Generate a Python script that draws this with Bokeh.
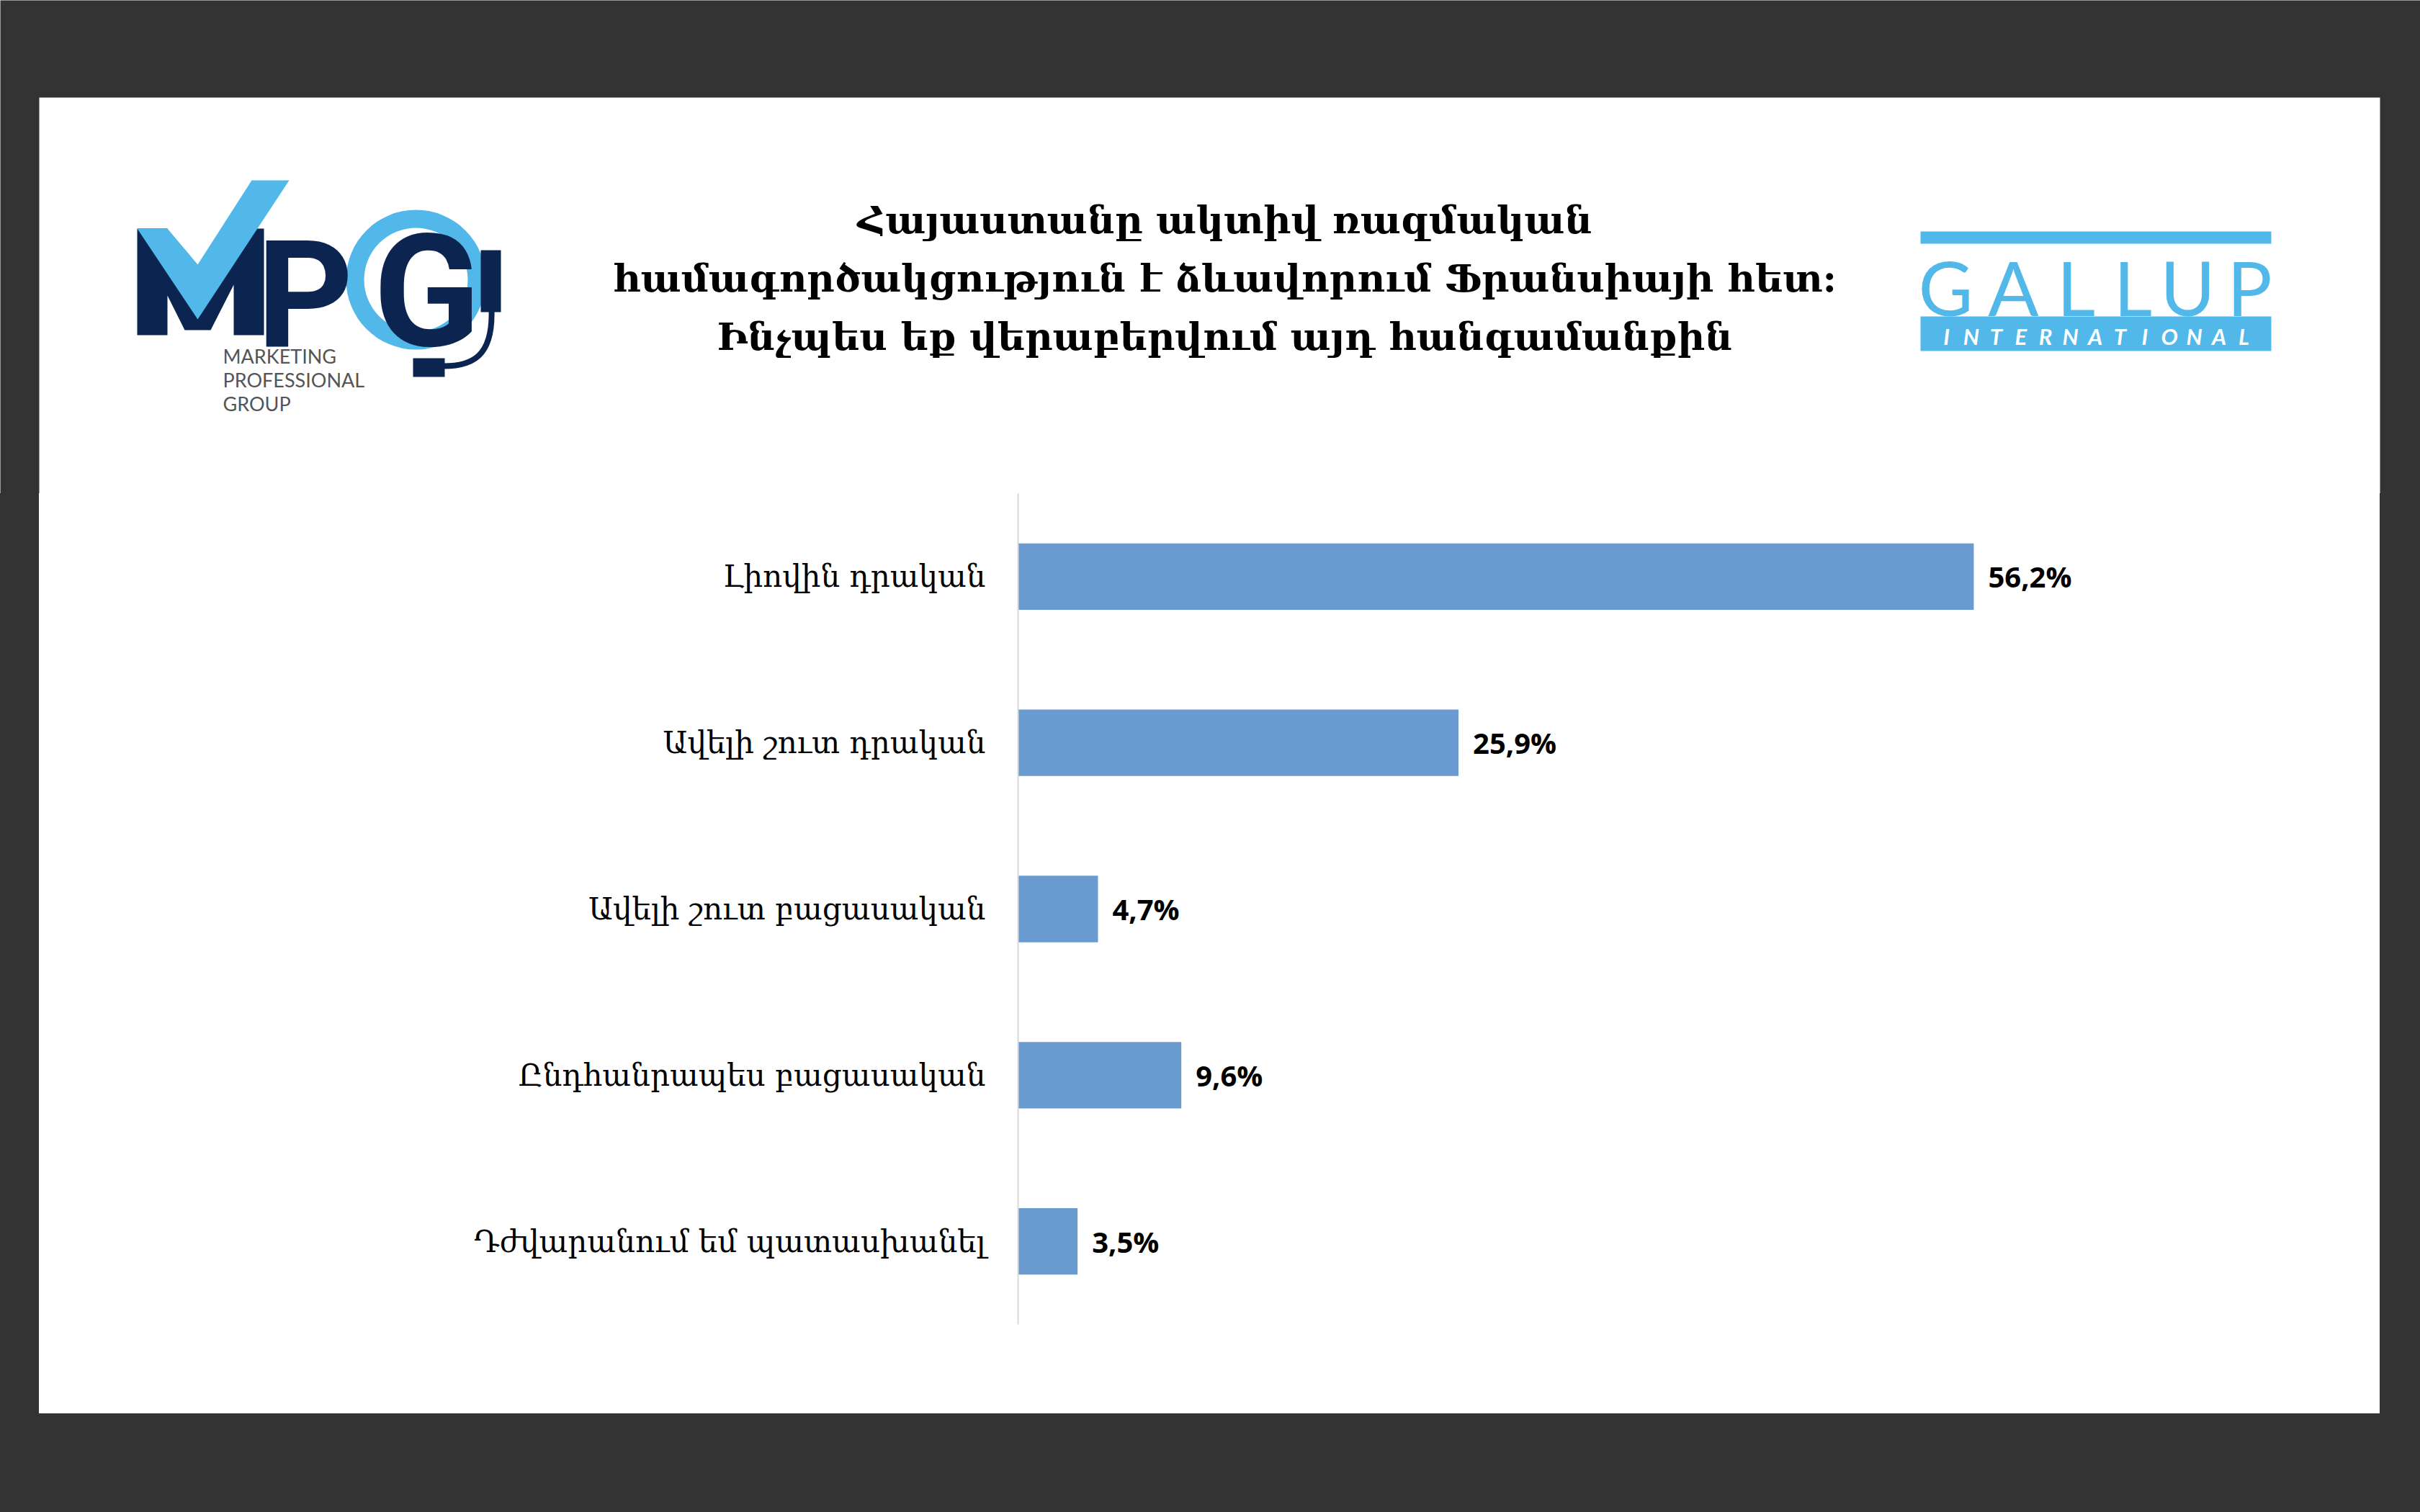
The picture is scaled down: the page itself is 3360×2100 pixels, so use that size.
import numpy as np
from bokeh.plotting import figure
from bokeh.layouts import column, row
from bokeh.models import Range1d, FactorRange, ColumnDataSource, Spacer
from bokeh.core.properties import value
from bokeh.embed import file_html
from bokeh.resources import INLINE

# ---------------- data ----------------
categories = ["Լիովին դրական", "Ավելի շուտ դրական", "Ավելի շուտ բացասական",
              "Ընդհանրապես բացասական", "Դժվարանում եմ պատասխանել"]
values = [56.2, 25.9, 4.7, 9.6, 3.5]
value_labels = [f"{v:.1f}%".replace(".", ",") for v in values]
title_lines = ["Հայաստանը ակտիվ ռազմական",
               "համագործակցություն է ձևավորում Ֆրանսիայի հետ:",
               "Ինչպես եք վերաբերվում այդ հանգամանքին"]
mpg_sub = ["MARKETING", "PROFESSIONAL", "GROUP"]
gallup_letters = list("GALLUP")
intl_letters = list("INTERNATIONAL")

DARK = "#333333"
BAR = "#699bd0"
LBLUE = "#52b8e9"
NAVY = "#0c2450"
ARM_FONT = "DejaVu Serif"


def dark_strip(w, h):
    return Spacer(width=w, height=h, styles={"background-color": DARK})


# ---------------- header ----------------
H_H = 685
hdr = figure(width=3360, height=H_H, x_range=Range1d(0, 3360), y_range=Range1d(H_H, 0),
             x_axis_type=None, y_axis_type=None, toolbar_location=None,
             output_backend="svg", min_border=0)
hdr.background_fill_color = DARK
hdr.border_fill_color = DARK
hdr.outline_line_color = None
hdr.quad(left=54, right=3304, top=135, bottom=H_H + 5, color="white", line_color=None)

# title
hdr.text(x=[1700] * 3, y=[304, 385, 466], text=title_lines, text_align="center",
         text_baseline="middle", text_font=value(ARM_FONT), text_font_style="bold",
         text_font_size="53px", text_color="black")

# MPG logo
hdr.annular_wedge(x=577, y=388, inner_radius=72, outer_radius=97, start_angle=0,
                  end_angle=2 * np.pi, color=LBLUE, line_color=None)
hdr.patch(x=[190, 190, 232, 274, 316, 366, 366, 324, 324, 292, 256, 232, 232],
          y=[465, 317, 317, 400, 317, 317, 465, 465, 395, 458, 458, 410, 465],
          color=NAVY, line_color=None)
hdr.patch(x=[190, 232, 274, 349, 401, 274],
          y=[317, 317, 367, 250, 250, 443], color=LBLUE, line_color=None)
hdr.text(x=[356], y=[410], text=["P"], text_align="left", text_baseline="middle",
         text_font=value("Roboto"), text_font_style="bold", text_font_size="208px",
         text_color=NAVY)
hdr.text(x=[592], y=[405], text=["G"], text_align="center", text_baseline="middle",
         text_font=value("Roboto"), text_font_style="bold", text_font_size="218px",
         text_color=NAVY)
hdr.quad(left=667, right=695, top=347, bottom=433, color=NAVY, line_color=None)
hdr.bezier(x0=682, y0=430, x1=615, y1=508, cx0=684, cy0=495, cx1=655, cy1=508,
           line_color=NAVY, line_width=8)
hdr.quad(left=573, right=617, top=497, bottom=523, color=NAVY, line_color=None)
hdr.text(x=[309] * 3, y=[494, 527, 560], text=mpg_sub, text_align="left",
         text_baseline="middle", text_font=value("Lato"), text_font_size="27px",
         text_color="#555555")

# GALLUP logo
hdr.quad(left=2666, right=3153, top=321, bottom=338, color=LBLUE, line_color=None)
hdr.text(x=[2701, 2795, 2882, 2961, 3037, 3123], y=[398] * 6, text=gallup_letters,
         text_align="center", text_baseline="middle", text_font=value("Lato"),
         text_font_size="104px", text_color=LBLUE)
hdr.quad(left=2666, right=3153, top=439, bottom=487, color=LBLUE, line_color=None)
hdr.text(x=list(np.linspace(2702, 3115, len(intl_letters))), y=[466] * len(intl_letters),
         text=intl_letters, text_align="center", text_baseline="middle",
         text_font=value("Lato"), text_font_style="bold italic", text_font_size="31px",
         text_color="white")

# ---------------- chart ----------------
src = ColumnDataSource(dict(cat=categories, val=values, lab=value_labels))
chart = figure(width=3250, height=1278, y_range=FactorRange(factors=categories[::-1]),
               x_range=Range1d(0, 71.45), toolbar_location=None, output_backend="svg",
               min_border_left=1359, min_border_right=204, min_border_top=0,
               min_border_bottom=124)
chart.background_fill_color = "white"
chart.border_fill_color = "white"
chart.outline_line_color = None
chart.hbar(y="cat", right="val", left=0, height=0.4, color=BAR, line_color=None, source=src)
chart.text(x="val", y="cat", text="lab", x_offset=20, text_align="left",
           text_baseline="middle", text_font=value("Open Sans"), text_font_style="bold",
           text_font_size="40px", text_color="black", source=src)
chart.xaxis.visible = False
chart.xgrid.visible = False
chart.ygrid.visible = False
yax = chart.yaxis[0]
yax.axis_line_color = "#d9d9d9"
yax.axis_line_width = 2
yax.major_tick_line_color = None
yax.minor_tick_line_color = None
yax.major_tick_out = 0
yax.major_tick_in = 0
yax.major_label_standoff = 45
yax.major_label_text_font = ARM_FONT
yax.major_label_text_font_size = "42px"
yax.major_label_text_color = "black"

layout = column(hdr, row(dark_strip(54, 1278), chart, dark_strip(56, 1278)),
                dark_strip(3360, 137))

open("out.html", "w").write(file_html(layout, INLINE))
